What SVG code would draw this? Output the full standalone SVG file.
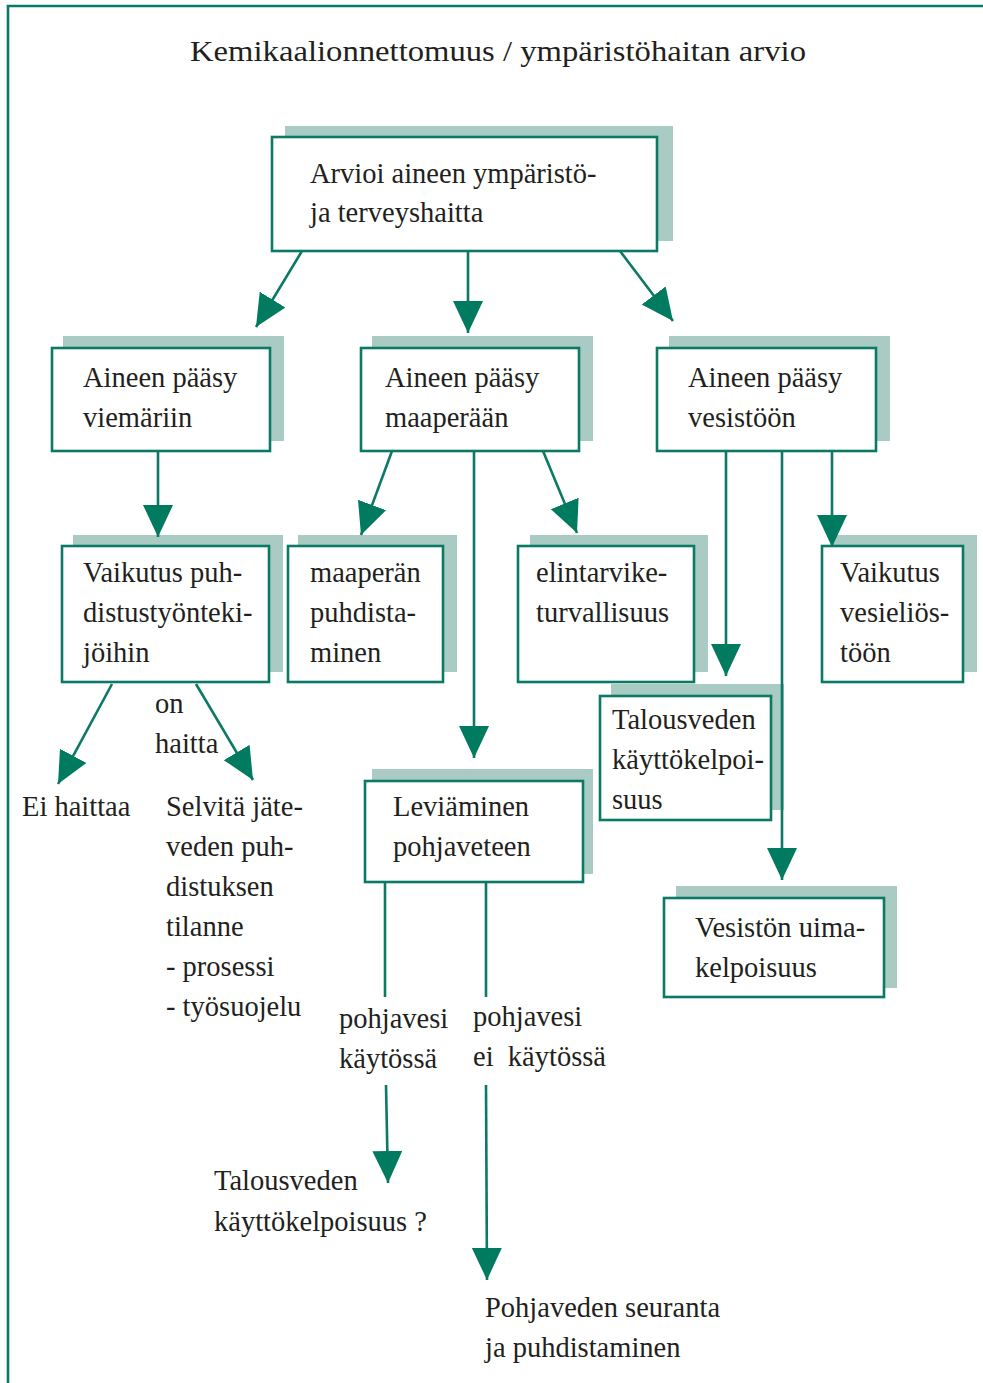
<svg xmlns="http://www.w3.org/2000/svg" width="983" height="1383" viewBox="0 0 983 1383">
<defs>
<style>
.box{fill:#fff;stroke:#0b7a64;stroke-width:2.6}
.sh{fill:#a9cbc3}
.t{font-family:"Liberation Serif",serif;font-size:28.5px;fill:#231f20}
.ttl{font-family:"Liberation Serif",serif;font-size:29px;fill:#231f20}
.c{stroke:#0b7a64;stroke-width:2.6;fill:none}
.a{marker-end:url(#ah)}
</style>
<marker id="ah" markerUnits="userSpaceOnUse" markerWidth="34" markerHeight="32" refX="32" refY="15" orient="auto">
<path d="M0,0 L32,15 L0,30 Z" fill="#007b5f"/>
</marker>
</defs>
<rect width="983" height="1383" fill="#fff"/>
<path d="M8,1383 L8,6 L983,6" fill="none" stroke="#0b7a64" stroke-width="2.6"/>
<text class="ttl" x="190" y="61" textLength="616" lengthAdjust="spacingAndGlyphs">Kemikaalionnettomuus / ympäristöhaitan arvio</text>

<g id="node-arvioi">
<rect class="sh" x="285" y="126" width="388" height="115"/>
<rect class="box" x="272" y="137" width="385" height="114"/>
<text class="t" x="310" y="183">Arvioi aineen ympäristö-</text>
<text class="t" x="310" y="222">ja terveyshaitta</text>
</g>

<g id="node-viemariin">
<rect class="sh" x="63" y="336" width="221" height="105"/>
<rect class="box" x="52" y="348" width="218" height="103"/>
<text class="t" x="83" y="387">Aineen pääsy</text>
<text class="t" x="83" y="427">viemäriin</text>
</g>

<g id="node-maaperaan">
<rect class="sh" x="372" y="336" width="221" height="105"/>
<rect class="box" x="361" y="348" width="218" height="103"/>
<text class="t" x="385" y="387">Aineen pääsy</text>
<text class="t" x="385" y="427">maaperään</text>
</g>

<g id="node-vesistoon">
<rect class="sh" x="669" y="336" width="221" height="105"/>
<rect class="box" x="657" y="348" width="219" height="103"/>
<text class="t" x="688" y="387">Aineen pääsy</text>
<text class="t" x="688" y="427">vesistöön</text>
</g>

<g id="node-puhdistustyontekijoihin">
<rect class="sh" x="73" y="535" width="210" height="137"/>
<rect class="box" x="62" y="546" width="207" height="136"/>
<text class="t" x="83" y="582">Vaikutus puh-</text>
<text class="t" x="83" y="622">distustyönteki-</text>
<text class="t" x="83" y="662">jöihin</text>
</g>

<g id="node-maaperan-puhdistaminen">
<rect class="sh" x="298" y="535" width="159" height="137"/>
<rect class="box" x="288" y="546" width="155" height="136"/>
<text class="t" x="310" y="582">maaperän</text>
<text class="t" x="310" y="622">puhdista-</text>
<text class="t" x="310" y="662">minen</text>
</g>

<g id="node-elintarviketurvallisuus">
<rect class="sh" x="530" y="535" width="178" height="137"/>
<rect class="box" x="518" y="546" width="176" height="136"/>
<text class="t" x="536" y="582">elintarvike-</text>
<text class="t" x="536" y="622">turvallisuus</text>
</g>

<g id="node-vesieliostoon">
<rect class="sh" x="833" y="535" width="144" height="137"/>
<rect class="box" x="822" y="546" width="141" height="136"/>
<text class="t" x="840" y="582">Vaikutus</text>
<text class="t" x="840" y="622">vesieliös-</text>
<text class="t" x="840" y="662">töön</text>
</g>

<g id="node-talousveden">
<rect class="sh" x="611" y="684" width="173" height="126"/>
<rect class="box" x="600" y="696" width="171" height="124"/>
<text class="t" x="612" y="729">Talousveden</text>
<text class="t" x="612" y="769">käyttökelpoi-</text>
<text class="t" x="612" y="809">suus</text>
</g>

<g id="node-leviaminen">
<rect class="sh" x="372" y="769" width="221" height="105"/>
<rect class="box" x="365" y="781" width="218" height="101"/>
<text class="t" x="393" y="816">Leviäminen</text>
<text class="t" x="393" y="856">pohjaveteen</text>
</g>

<g id="node-uimakelpoisuus">
<rect class="sh" x="676" y="886" width="221" height="102"/>
<rect class="box" x="664" y="898" width="220" height="99"/>
<text class="t" x="695" y="937">Vesistön uima-</text>
<text class="t" x="695" y="977">kelpoisuus</text>
</g>

<g id="connectors">
<path class="c a" d="M302,251 L256,327"/>
<path class="c a" d="M468,251 L468,333"/>
<path class="c a" d="M620,251 L673,321"/>
<path class="c a" d="M158,451 L158,537"/>
<path class="c a" d="M392,451 L361,535"/>
<path class="c a" d="M474,451 L474,758"/>
<path class="c a" d="M543,451 L577,533"/>
<path class="c a" d="M726,451 L726,676"/>
<path class="c a" d="M782,451 L782,880"/>
<path class="c a" d="M832,451 L832,547"/>
<path class="c a" d="M112,684 L58,784"/>
<path class="c a" d="M196,684 L253,780"/>
<path class="c" d="M385,883 L385,997"/>
<path class="c" d="M486,883 L486,997"/>
<path class="c a" d="M386,1085 L388,1183"/>
<path class="c a" d="M486,1085 L487,1280"/>
</g>

<g id="labels">
<text class="t" x="155" y="713">on</text>
<text class="t" x="155" y="753">haitta</text>
<text class="t" x="22" y="816">Ei haittaa</text>
<text class="t" x="166" y="816">Selvitä jäte-</text>
<text class="t" x="166" y="856">veden puh-</text>
<text class="t" x="166" y="896">distuksen</text>
<text class="t" x="166" y="936">tilanne</text>
<text class="t" x="166" y="976">- prosessi</text>
<text class="t" x="166" y="1016">- työsuojelu</text>
<text class="t" x="339" y="1028">pohjavesi</text>
<text class="t" x="339" y="1068">käytössä</text>
<text class="t" x="473" y="1026">pohjavesi</text>
<text class="t" x="473" y="1066" xml:space="preserve">ei  käytössä</text>
<text class="t" x="214" y="1190">Talousveden</text>
<text class="t" x="214" y="1231">käyttökelpoisuus ?</text>
<text class="t" x="485" y="1317">Pohjaveden seuranta</text>
<text class="t" x="485" y="1357">ja puhdistaminen</text>
</g>
</svg>
